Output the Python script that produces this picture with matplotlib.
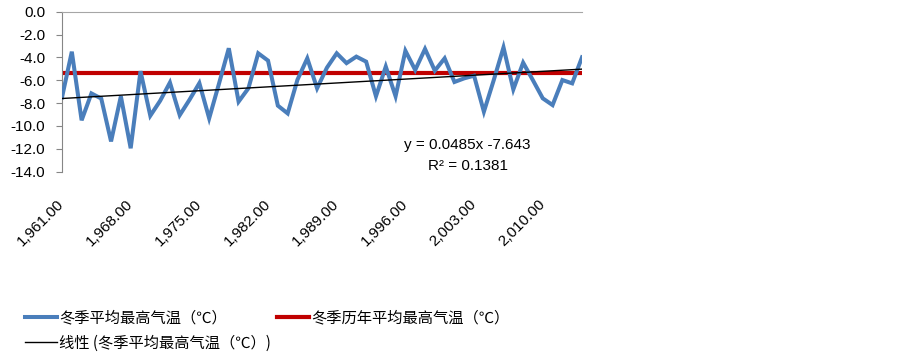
import numpy as np
import matplotlib
matplotlib.use("Agg")
import matplotlib.pyplot as plt

plt.rcParams['font.family'] = ['Liberation Sans', 'DejaVu Sans']

# winter mean max temperature, 1961-2014
years = np.arange(1961, 2015)
temp = [-7.5, -3.5, -9.5, -7.15, -7.6, -11.35, -7.4, -11.95, -5.2, -9.1,
        -7.8, -6.2, -9.05, -7.7, -6.25, -9.33, -6.3, -3.2, -7.87, -6.7,
        -3.64, -4.28, -8.22, -8.9, -5.95, -4.08, -6.7, -4.9, -3.64, -4.5,
        -3.93, -4.37, -7.4, -4.8, -7.4, -3.42, -5.1, -3.26, -5.16, -4.08,
        -6.15, -5.83, -5.6, -8.75, -6.0, -3.12, -6.8, -4.46, -6.0, -7.58,
        -8.17, -5.98, -6.27, -3.99]
hist_mean = -5.4
slope, intercept = 0.0485, -7.643
r2 = 0.1381

lab_blue = '冬季平均最高气温（℃）'
lab_red = '冬季历年平均最高气温（℃）'
lab_trend = '线性 (冬季平均最高气温（℃）)'

fig = plt.figure(figsize=(9.03, 3.54), dpi=100)
ax = fig.add_axes([62 / 903, 1 - 171.7 / 354, 520 / 903, 160 / 354])

idx = np.arange(1, len(years) + 1)
l1, = ax.plot(years, temp, color='#4A7EBB', lw=2.9, solid_joinstyle='miter', zorder=3)
l2 = ax.axhline(hist_mean, color='#C00000', lw=3.0, zorder=2)
l3, = ax.plot(years, slope * idx + intercept, color='black', lw=1.0, zorder=4)

ax.set_xlim(years[0], years[-1])
ax.set_ylim(-14, 0)
ax.set_yticks(np.arange(-14, 0.1, 2))
ax.set_yticklabels([f'{v:.1f}' for v in np.arange(-14, 0.1, 2)], fontsize=11)
xt = years[::7]
ax.set_xticks(xt)
ax.set_xticklabels([f'{v:,.2f}' for v in xt], fontsize=11, rotation=45,
                   ha='right', va='center', rotation_mode='anchor')

for s in ['right', 'bottom']:
    ax.spines[s].set_visible(False)
ax.spines['left'].set_color('#868686')
ax.spines['top'].set_color('#A6A6A6')
ax.tick_params(axis='y', length=4, color='#868686', pad=8)
ax.tick_params(axis='x', length=0, pad=22)

ax.text(0.78, 0.165, f'y = {slope}x {intercept}', transform=ax.transAxes,
        ha='center', va='center', fontsize=11)
ax.text(0.78, 0.035, f'R² = {r2}', transform=ax.transAxes,
        ha='center', va='center', fontsize=11)

fig.legend([l1, l3, l2], [lab_blue, lab_trend, lab_red], ncol=2,
           loc='upper left', bbox_to_anchor=(25 / 903, 1 - 309 / 354),
           frameon=False, borderpad=0, borderaxespad=0,
           handlelength=2.1, handletextpad=0.15, columnspacing=0.35,
           labelspacing=0.55,
           prop={'family': ['Noto Sans CJK SC', 'DejaVu Sans'], 'size': 11})

fig.savefig('out.png', dpi=100)
